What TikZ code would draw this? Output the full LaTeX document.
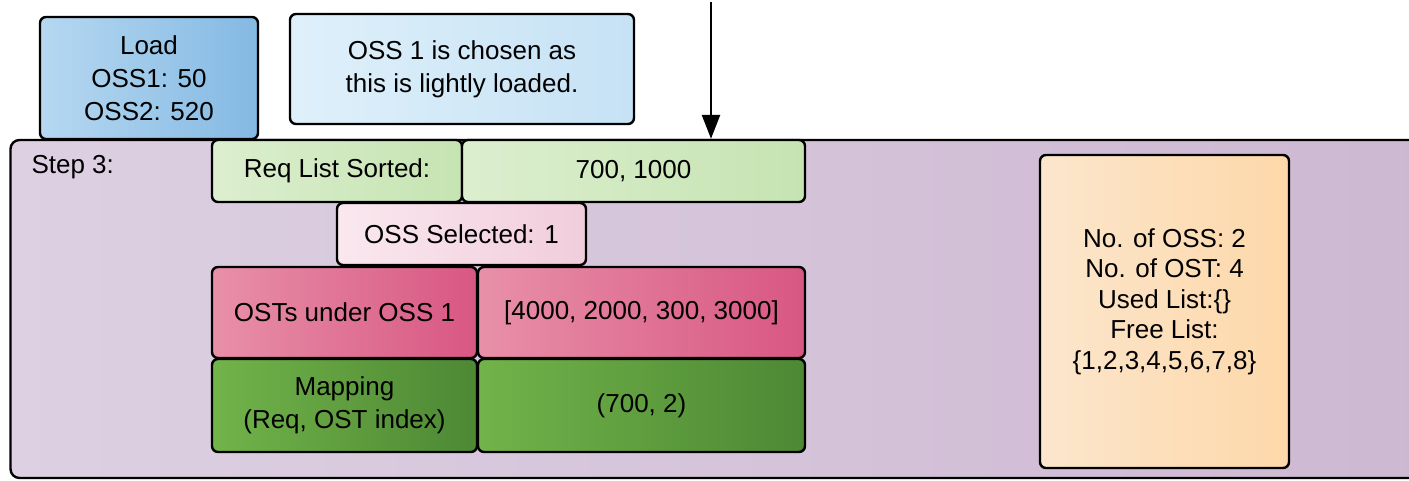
\documentclass[tikz,border=0pt]{standalone}
\usepackage{fontspec}
\setmainfont{Liberation Sans}
\usetikzlibrary{arrows.meta}
\definecolor{loadL}{HTML}{B6D8F1}
\definecolor{loadR}{HTML}{84B9E3}
\definecolor{noteL}{HTML}{DFF0FA}
\definecolor{noteR}{HTML}{C6E2F5}
\definecolor{bigL}{HTML}{DDD0E2}
\definecolor{bigR}{HTML}{CDB8D2}
\definecolor{reqL}{HTML}{DCEECF}
\definecolor{reqR}{HTML}{C6E4B2}
\definecolor{selL}{HTML}{FAE8EF}
\definecolor{selR}{HTML}{F1CDDB}
\definecolor{ostL}{HTML}{E890A9}
\definecolor{ostR}{HTML}{D85783}
\definecolor{mapL}{HTML}{72B34A}
\definecolor{mapR}{HTML}{4D8834}
\definecolor{infoL}{HTML}{FCE6CC}
\definecolor{infoR}{HTML}{FDD8AA}
\tikzset{
  box/.style={draw=black, line width=2.4pt, rounded corners=6pt, align=center,
    inner sep=0pt, font=\fontsize{26}{30.5}\selectfont, text=black},
  txt/.style={align=center, inner sep=0pt, font=\fontsize{26}{30.5}\selectfont, text=black},
  arr/.style={-{Triangle[length=24pt,width=18pt]}, line width=2.6pt},
}
\begin{document}
\begin{tikzpicture}[x=1pt,y=-1pt]
\useasboundingbox (0,0) rectangle (1409,480);
% big step box
\node[box, rounded corners=9pt, left color=bigL, right color=bigR,
  minimum width=1425pt, minimum height=338pt] (big) at (723,309) {};
\node[anchor=west, font=\fontsize{26}{30.5}\selectfont] (step) at (28,167) {Step 3:};
% top boxes
\node[box, font=\fontsize{26}{33}\selectfont, left color=loadL, right color=loadR, minimum width=218pt, minimum height=122pt]
  (load) at (149,78) {Load\\OSS1: 50\\OSS2: 520};
\node[box, font=\fontsize{26}{33}\selectfont, left color=noteL, right color=noteR, minimum width=344pt, minimum height=110pt]
  (note) at (462,69) {OSS 1 is chosen as\\this is lightly loaded.};
% arrow
\coordinate (atop) at (711,2);
\draw[arr] (atop) -- (atop |- big.north);
% table
\node[box, left color=reqL, right color=reqR, minimum width=250pt, minimum height=62pt]
  (req) at (337,171) {Req List Sorted:};
\node[box, left color=reqL, right color=reqR, minimum width=343pt, minimum height=62pt]
  (reqv) at (633.5,171) {700, 1000};
\node[box, left color=selL, right color=selR, minimum width=249pt, minimum height=62pt]
  (sel) at (461.5,234) {OSS Selected: 1};
\node[box, left color=ostL, right color=ostR, minimum width=265pt, minimum height=91pt]
  (ost) at (344.5,312.5) {OSTs under OSS 1};
\node[box, left color=ostL, right color=ostR, minimum width=327pt, minimum height=91pt]
  (ostv) at (641.5,312.5) {[4000, 2000, 300, 3000]};
\node[box, font=\fontsize{26}{33}\selectfont, left color=mapL, right color=mapR, minimum width=265pt, minimum height=93pt]
  (map) at (344.5,405.5) {Mapping\\(Req, OST index)};
\node[box, left color=mapL, right color=mapR, minimum width=327pt, minimum height=93pt]
  (mapv) at (641.5,405.5) {(700, 2)};
% info box
\node[box, left color=infoL, right color=infoR, minimum width=249pt, minimum height=313pt]
  (info) at (1164.5,311.5) {};
\node[txt] (infotext) at ([yshift=10pt]info.center) {No. of OSS: 2\\No. of OST: 4\\Used List:\{\}\\Free List:\\\{1,2,3,4,5,6,7,8\}};
\end{tikzpicture}
\end{document}
